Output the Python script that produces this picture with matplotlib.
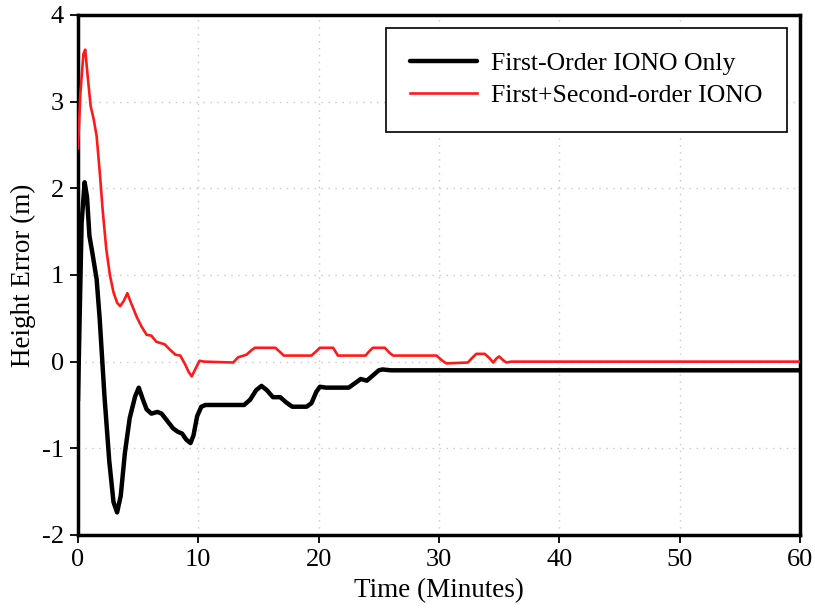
import matplotlib
matplotlib.use('Agg')
import matplotlib.pyplot as plt

# Time axis (minutes) and height error (m) for each solution
t_first = [0.0, 0.15, 0.3, 0.55, 0.75, 0.95, 1.2, 1.55, 1.8, 2.2, 2.6, 2.95, 3.25, 3.55,
           3.9, 4.3, 4.75, 5.05, 5.35, 5.7, 6.1, 6.6, 6.95, 7.4, 7.9, 8.3, 8.65, 9.0, 9.35,
           9.6, 9.9, 10.25, 10.6, 12.0, 13.8, 14.3, 14.8, 15.25, 15.7, 16.2, 16.8, 17.3,
           17.8, 19.0, 19.4, 19.8, 20.1, 20.6, 22.5, 23.0, 23.5, 24.0, 24.5, 25.0, 25.3,
           26.0, 60.0]
h_first = [-0.45, 0.6, 1.6, 2.07, 1.9, 1.45, 1.25, 0.95, 0.5, -0.4, -1.15, -1.62, -1.74,
           -1.55, -1.05, -0.65, -0.4, -0.3, -0.42, -0.55, -0.6, -0.58, -0.6, -0.68, -0.77,
           -0.81, -0.83, -0.9, -0.94, -0.85, -0.63, -0.52, -0.5, -0.5, -0.5, -0.44, -0.33,
           -0.28, -0.33, -0.41, -0.41, -0.47, -0.52, -0.52, -0.48, -0.35, -0.29, -0.3,
           -0.3, -0.25, -0.2, -0.22, -0.16, -0.1, -0.09, -0.1, -0.1]

t_second = [0.0, 0.2, 0.45, 0.6, 0.8, 1.05, 1.3, 1.55, 1.8, 2.05, 2.35, 2.65, 2.95, 3.25,
            3.5, 3.8, 4.1, 4.4, 4.9, 5.3, 5.7, 6.1, 6.5, 7.2, 7.7, 8.1, 8.5, 8.9, 9.2, 9.45,
            9.7, 10.1, 10.5, 12.9, 13.3, 14.0, 14.4, 14.7, 16.4, 16.8, 17.1, 19.4, 19.8,
            20.1, 21.2, 21.6, 23.9, 24.2, 24.5, 25.5, 25.9, 26.2, 29.8, 30.2, 30.6, 32.4,
            32.8, 33.1, 33.8, 34.2, 34.5, 34.8, 35.0, 35.3, 35.6, 36.0, 60.0]
h_second = [2.46, 3.1, 3.55, 3.6, 3.3, 2.95, 2.8, 2.6, 2.2, 1.75, 1.3, 1.0, 0.8, 0.68,
            0.64, 0.7, 0.79, 0.68, 0.51, 0.4, 0.31, 0.3, 0.23, 0.2, 0.13, 0.08, 0.07, -0.03,
            -0.12, -0.17, -0.1, 0.01, 0.0, -0.01, 0.05, 0.08, 0.13, 0.16, 0.16, 0.11, 0.07,
            0.07, 0.12, 0.16, 0.16, 0.07, 0.07, 0.12, 0.16, 0.16, 0.1, 0.07, 0.07, 0.02,
            -0.02, -0.01, 0.05, 0.09, 0.09, 0.04, -0.01, 0.04, 0.06, 0.02, -0.01, 0.0, 0.0]

plt.rcParams['font.family'] = ['Liberation Serif', 'DejaVu Serif']
plt.rcParams['axes.unicode_minus'] = False

fig = plt.figure(figsize=(8.15, 6.14), dpi=100)
ax = fig.add_axes([0.0957, 0.1287, 0.8859, 0.8469])

ax.plot(t_first, h_first, color='black', lw=3.2, solid_joinstyle='round',
        solid_capstyle='round', label='First-Order IONO Only', zorder=3)
ax.plot(t_second, h_second, color='#ff1a1a', lw=1.9, solid_joinstyle='round',
        label='First+Second-order IONO', zorder=4)

ax.set_xlim(0, 60)
ax.set_ylim(-2, 4)
ax.set_xticks(range(0, 61, 10))
ax.set_yticks(range(-2, 5))
ax.grid(True, color='#c8c8c8', linestyle=(0, (1, 4)), linewidth=1.0)
ax.set_axisbelow(True)

for s in ax.spines.values():
    s.set_linewidth(2.5)
ax.tick_params(direction='out', length=6, width=1.3, labelsize=19, pad=4)

ax.set_xlabel('Time (Minutes)', fontsize=19.5, labelpad=5)
ax.set_ylabel('Height Error (m)', fontsize=19.5, labelpad=4)

leg = ax.legend(loc='upper right', fontsize=18.5, frameon=True, fancybox=False,
                edgecolor='black', framealpha=1, handlelength=2.6, handletextpad=0.55,
                borderpad=0.95, labelspacing=0.35, borderaxespad=0.5)
leg.get_frame().set_linewidth(1.2)

plt.savefig('out.png', dpi=100)
